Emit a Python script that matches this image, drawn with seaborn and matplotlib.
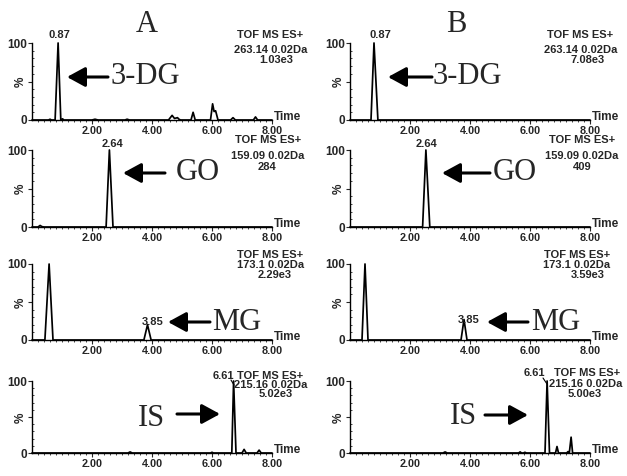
import matplotlib
matplotlib.use("Agg")
import matplotlib.pyplot as plt
import seaborn as sns
from matplotlib.lines import Line2D
from matplotlib.patches import FancyArrowPatch

sns.set_style("ticks")
plt.rcParams['font.family'] = ['Liberation Sans', 'DejaVu Sans']

W, H = 627, 476

# ---------------- data (time in min, intensity in %) ----------------
a1_t = [0, 0.55, 0.60, 0.65, 0.77, 0.87, 0.96, 1.02, 1.06, 1.10, 2.00, 2.10, 2.20, 3.10, 3.17, 3.25,
        4.55, 4.67, 4.75, 4.85, 4.90, 4.95, 5.30, 5.37, 5.44, 5.95, 6.02, 6.07, 6.12, 6.20,
        6.62, 6.70, 6.78, 7.38, 7.45, 7.52, 8.0]
a1_y = [0, 0, 1, 0, 0, 100, 0, 1.5, 0, 0, 0, 1, 0, 0, 1, 0,
        0, 6, 2, 3, 1, 0, 0, 10, 0, 0, 21, 11, 12, 0,
        0, 3, 0, 0, 4, 0, 0]
b1_t = [0, 0.70, 0.80, 0.93, 8.0]
b1_y = [0, 0, 100, 0, 0]

a2_t = [0, 0.20, 0.27, 0.33, 0.40, 2.47, 2.58, 2.70, 8.0]
a2_y = [0, 0, 2, 0.5, 0, 0, 100, 0, 0]
b2_t = [0, 2.42, 2.53, 2.66, 8.0]
b2_y = [0, 0, 100, 0, 0]

a3_t = [0, 0.43, 0.57, 0.70, 3.73, 3.85, 3.97, 8.0]
a3_y = [0, 0, 100, 0, 0, 20, 0, 0]
b3_t = [0, 0.40, 0.50, 0.60, 3.70, 3.80, 3.90, 8.0]
b3_y = [0, 0, 100, 0, 0, 27, 0, 0]

a4_t = [0, 3.20, 3.27, 3.34, 5.95, 6.00, 6.05, 6.66, 6.72, 6.80, 7.00, 7.07, 7.14, 7.50, 7.57, 7.64, 8.0]
a4_y = [0, 0, 1.5, 0, 0, 1, 0, 0, 100, 0, 0, 5, 0, 0, 4, 0, 0]
b4_t = [0, 3.10, 3.17, 3.24, 5.62, 5.67, 5.72, 5.78, 5.83, 5.88, 6.50, 6.57, 6.65, 6.85, 6.90, 6.95,
        7.22, 7.27, 7.31, 7.37, 7.42, 8.0]
b4_y = [0, 0, 1.5, 0, 0, 1.5, 0, 0, 1, 0, 0, 100, 0, 0, 9, 0,
        0, 2, 0, 22, 0, 0]

traces = [[(a1_t, a1_y), (b1_t, b1_y)],
          [(a2_t, a2_y), (b2_t, b2_y)],
          [(a3_t, a3_y), (b3_t, b3_y)],
          [(a4_t, a4_y), (b4_t, b4_y)]]

peak_labels = [["0.87", "0.87"], ["2.64", "2.64"], ["3.85", "3.85"], ["6.61", "6.61"]]
mass_lines = ["263.14 0.02Da", "159.09 0.02Da", "173.1 0.02Da", "215.16 0.02Da"]
scale_lines = [["1.03e3", "7.08e3"], ["284", "409"], ["2.29e3", "3.59e3"], ["5.02e3", "5.00e3"]]
compounds = ["3-DG", "GO", "MG", "IS"]
panel_titles = ["A", "B"]
x_ticks = [2, 4, 6, 8]
x_ticklabels = ["2.00", "4.00", "6.00", "8.00"]

# ---------------- layout (pixels) ----------------
col_x = [(32, 272), (350, 590)]
row_y = [(43, 120), (150, 227), (264, 340), (381, 453)]

fig = plt.figure(figsize=(W / 100, H / 100), dpi=100)


def fx(px):
    return px / W


def fy(py):
    return 1 - py / H


def ftext(px, py, s, **kw):
    fig.text(fx(px), fy(py), s, **kw)


small = dict(fontsize=8, fontweight='bold', ha='center', va='center')
serif = dict(fontsize=22, family='Liberation Serif', va='center')

for r in range(4):
    for c in range(2):
        x0, x1 = col_x[c]
        y100, y0 = row_y[r]
        ax = fig.add_axes([fx(x0), fy(y0), (x1 - x0) / W, (y0 - y100) / H])
        t, y = traces[r][c]
        sns.lineplot(x=t, y=y, ax=ax, color='black', lw=1.25, sort=False,
                     estimator=None, clip_on=False)
        ax.set_xlim(0, 8)
        ax.set_ylim(0, 100)
        for s in ['top', 'right']:
            ax.spines[s].set_visible(False)
        for s in ['left', 'bottom']:
            ax.spines[s].set_linewidth(1.0)
            ax.spines[s].set_color('black')
        ax.set_xticks(x_ticks)
        ax.set_xticklabels(x_ticklabels, fontsize=7.8, fontweight='bold')
        ax.set_xticks([i * 0.2 for i in range(1, 40)], minor=True)
        ax.set_yticks([0, 50, 100])
        ax.set_yticklabels(["0", "%", "100"], fontsize=8.5, fontweight='bold')
        ax.get_yticklabels()[1].set_rotation(90)
        ax.set_yticks(list(range(10, 100, 10)), minor=True)
        ax.tick_params(axis='x', which='major', direction='out', length=3, width=0.8, pad=1)
        ax.tick_params(axis='x', which='minor', direction='out', length=1.5, width=0.6)
        ax.tick_params(axis='y', which='major', direction='out', length=3, width=0.8, pad=0.5)
        ax.tick_params(axis='y', which='minor', direction='in', length=1.5, width=0.6)
        ax.set_xlabel("")
        ax.set_ylabel("")
        ftext(x1 + 2, y0 - 3, "Time", fontsize=8.5, fontweight='bold', ha='left', va='center')

# panel titles
ftext(147, 24, panel_titles[0], fontsize=22, family='Liberation Serif', ha='center', va='center')
ftext(456, 25, panel_titles[1], fontsize=22, family='Liberation Serif', ha='center', va='center')

# TOF blocks: (x center line1, x center line2, x center line3, y1, y2, y3)
tof_pos = [
    [(270, 271, 276, 35, 50, 60), (580, 581, 588, 35, 50, 60)],
    [(268, 268, 267, 140, 156, 167), (582, 582, 582, 140, 156, 167)],
    [(270, 271, 275, 255, 265, 275), (577, 577, 588, 255, 265, 275)],
    [(270, 271, 276, 376, 385, 394), (587, 586, 585, 373, 384, 394)],
]
for r in range(4):
    for c in range(2):
        xa, xb, xc, ya, yb, yc = tof_pos[r][c]
        ftext(xa, ya, "TOF MS ES+", **small)
        ftext(xb, yb, mass_lines[r], **small)
        ftext(xc, yc, scale_lines[r][c], **small)

# peak labels
pk_pos = [[(59, 35), (380, 35)], [(113, 144), (427, 144)], [(153, 322), (469, 320)],
          [(223, 376), (534, 373)]]
for r in range(4):
    for c in range(2):
        ftext(pk_pos[r][c][0], pk_pos[r][c][1], peak_labels[r][c], **small)

# leader lines for IS
for (xa, ya, xb, yb) in [(231, 380, 234, 385), (543, 378, 547, 384)]:
    fig.add_artist(Line2D([fx(xa), fx(xb)], [fy(ya), fy(yb)], color='black', lw=0.8,
                          transform=fig.transFigure))

# arrows: (tail, tip)
arrows = [[((108, 77), (67, 77)), ((432, 77), (388, 77))],
          [((165, 173), (123, 173)), ((490, 173), (442, 173))],
          [((210, 322), (168, 322)), ((528, 322), (487, 322))],
          [((177, 414), (220, 414)), ((485, 415), (528, 415))]]
for r in range(4):
    for c in range(2):
        (tx, ty), (hx, hy) = arrows[r][c]
        arr = FancyArrowPatch((fx(tx), fy(ty)), (fx(hx), fy(hy)),
                              transform=fig.transFigure,
                              arrowstyle='-|>,head_length=11,head_width=6',
                              mutation_scale=1, lw=2.2, color='black',
                              shrinkA=0, shrinkB=0)
        fig.add_artist(arr)

# compound labels
cmp_pos = [[(111, 77, 'left'), (433, 77, 'left')],
           [(176, 173, 'left'), (493, 173, 'left')],
           [(212, 322, 'left'), (531, 322, 'left')],
           [(165, 419, 'right'), (477, 417, 'right')]]
for r in range(4):
    for c in range(2):
        px, py, ha = cmp_pos[r][c]
        ftext(px, py, compounds[r], ha=ha, **serif)

fig.savefig("out.png", dpi=100)
